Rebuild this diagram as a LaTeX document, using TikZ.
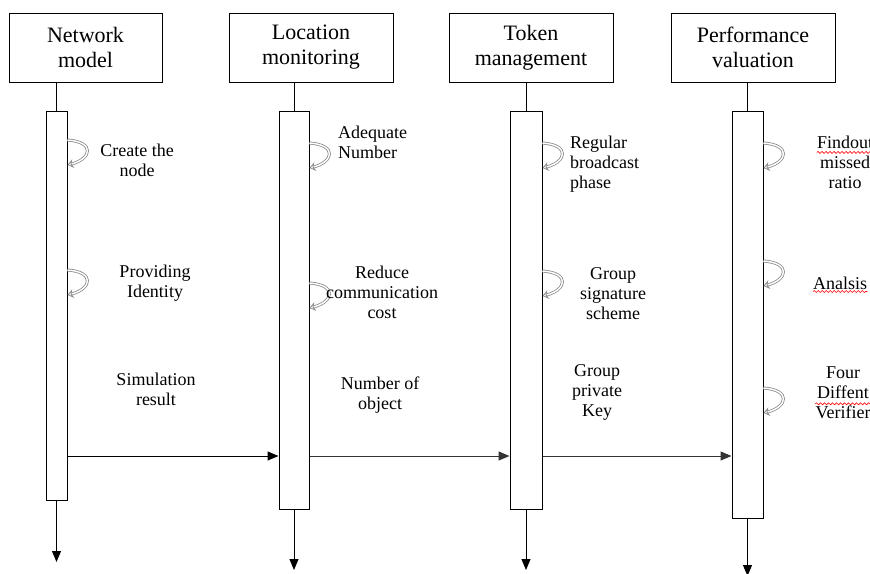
\documentclass[tikz,border=0pt]{standalone}
\usepackage{fontspec}
\setmainfont{Liberation Serif}
\newfontfamily\diagfont{Liberation Serif}
\usetikzlibrary{arrows.meta,positioning,decorations.pathmorphing}

\begin{document}
\begin{tikzpicture}[
  x=1pt,y=-1pt,
  every node/.style={font=\diagfont\fontsize{18}{20}\selectfont},
  headbox/.style={draw,line width=1pt,minimum width=164pt,minimum height=69pt,
                  align=center,inner sep=2pt,font=\diagfont\fontsize{22}{25}\selectfont},
  actbar/.style={draw,line width=1pt,inner sep=0pt},
  note/.style={align=center,inner sep=0pt},
  life/.style={line width=1pt},
  msg/.style={line width=1pt,-{Triangle[length=11pt,width=9pt]}},
  selfcall/.style={draw=gray!90,double=white,double distance=1.4pt,line width=0.8pt,
                   -{Stealth[open,length=6pt,width=9pt]}},
  squiggle/.style={red,line width=0.6pt,decorate,
                   decoration={snake,segment length=4pt,amplitude=1pt}},
]
  \useasboundingbox (0,0) rectangle (870,573);
  \clip (0,0) rectangle (870,573);

  % Header boxes
  \node[headbox,minimum width=153pt] (nm) at (85.5,47.5) {Network\\model};
  \node[headbox] (lm) at (311,47.5) {Location\\monitoring};
  \node[headbox] (tm) at (531,47.5) {Token\\management};
  \node[headbox] (pv) at (753,47.5) {Performance\\valuation};

  % Activation bars
  \node[actbar,minimum width=21pt,minimum height=389pt] (bar1) at (56.5,305.5) {};
  \node[actbar,minimum width=30pt,minimum height=398pt] (bar2) at (294,310) {};
  \node[actbar,minimum width=32pt,minimum height=398pt] (bar3) at (526,310) {};
  \node[actbar,minimum width=31pt,minimum height=407pt] (bar4) at (747.5,314.5) {};

  % Lifelines
  \draw[life] (bar1.north |- nm.south) -- (bar1.north);
  \draw[life] (bar2.north |- lm.south) -- (bar2.north);
  \draw[life] (bar3.north |- tm.south) -- (bar3.north);
  \draw[life] (bar4.north |- pv.south) -- (bar4.north);

  \coordinate (end1) at (56.5,562);
  \coordinate (end2) at (294,570);
  \coordinate (end3) at (526,570);
  \coordinate (end4) at (747.5,576);
  \draw[msg] (bar1.south) -- (end1);
  \draw[msg] (bar2.south) -- (end2);
  \draw[msg] (bar3.south) -- (end3);
  \draw[msg] (bar4.south) -- (end4);

  % Messages
  \coordinate (msgy) at (0,456);
  \draw[msg] (bar1.east |- msgy) -- (bar2.west |- msgy);
  \draw[msg,black!80] (bar2.east |- msgy) -- (bar3.west |- msgy);
  \draw[msg,black!80] (bar3.east |- msgy) -- (bar4.west |- msgy);

  % Self calls
  \foreach \b/\y [evaluate=\y as \ya using \y-12, evaluate=\y as \yb using \y+13]
    in {bar1/152,bar1/282,bar2/155,bar2/295,bar3/155,bar3/283,bar4/155,bar4/273,bar4/400}
    \draw[selfcall] (\b.east |- 0,\ya) .. controls +(28,2) and +(24,-6) .. (\b.east |- 0,\yb);

  % Labels
  \node[note] (cn) at (137,160) {Create the\\node};
  \node[note] (pi) at (155,283) {Providing\\Identity};
  \node[note] (sr) at (156,389) {Simulation\\result};
  \node[note,align=left,anchor=west] (an) at (338,142) {Adequate\\Number};
  \node[note] (rc) at (382,292) {Reduce\\communication\\cost};
  \node[note] (no) at (380,395) {Number of\\object};
  \node[note,align=left,anchor=west] (rb) at (570,164) {Regular\\broadcast\\phase};
  \node[note] (gs) at (613,294) {Group\\signature\\scheme};
  \node[note] (gp) at (597,392) {Group\\private\\Key};
  \node[note] (fm) at (845,162) {Findout\\missed\\ratio};
  \node[note,anchor=west] (al) at (813,283) {Analsis};
  \node[note] (fd) at (843,393) {Four\\Diffent\\Verifier};

  % Spelling marks
  \draw[squiggle] ([yshift=-17pt]fm.north west) -- ([yshift=-17pt]fm.north east);
  \draw[squiggle] ([yshift=-2pt]al.south west) -- ([yshift=-2pt]al.south east);
  \draw[squiggle] ([yshift=-37pt]fd.north west) -- ([yshift=-37pt]fd.north east);
\end{tikzpicture}
\end{document}
